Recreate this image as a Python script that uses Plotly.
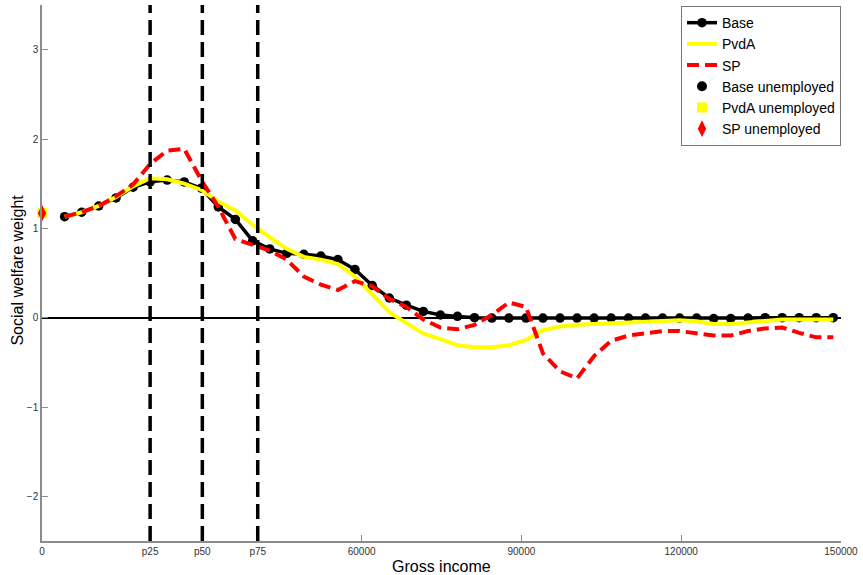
import plotly.graph_objects as go

# ---- data ----
income = [4250, 7450, 10650, 13900, 17100, 20300, 23500, 26700, 29900, 33100,
          36300, 39550, 42750, 45950, 49150, 52350, 55550, 58750, 62000, 65200,
          68400, 71600, 74800, 78000, 81200, 84450, 87650, 90850, 94050, 97250,
          100450, 103650, 106850, 110100, 113300, 116500, 119700, 122900, 126100, 129300,
          132550, 135750, 138950, 142150, 145350, 148550]

base = [1.13, 1.18, 1.25, 1.34, 1.46, 1.52, 1.54, 1.52, 1.45, 1.24,
        1.10, 0.86, 0.77, 0.72, 0.71, 0.69, 0.65, 0.54, 0.36, 0.22,
        0.14, 0.07, 0.03, 0.015, 0.0, -0.005, -0.005, -0.005, -0.005, -0.005,
        -0.005, -0.005, -0.005, -0.005, -0.005, -0.005, -0.005, -0.005, -0.01, -0.01,
        -0.005, 0.0, 0.0, 0.0, 0.0, 0.0]

pvda = [1.13, 1.18, 1.25, 1.35, 1.47, 1.56, 1.55, 1.50, 1.43, 1.30,
        1.20, 1.04, 0.90, 0.77, 0.68, 0.65, 0.60, 0.46, 0.26, 0.06,
        -0.06, -0.18, -0.24, -0.31, -0.33, -0.33, -0.31, -0.25, -0.14, -0.10,
        -0.08, -0.07, -0.06, -0.05, -0.04, -0.03, -0.03, -0.04, -0.07, -0.07,
        -0.05, -0.03, -0.02, -0.02, -0.02, -0.02]

sp = [1.13, 1.18, 1.25, 1.36, 1.49, 1.72, 1.87, 1.89, 1.54, 1.24,
      0.88, 0.81, 0.75, 0.65, 0.46, 0.37, 0.31, 0.41, 0.35, 0.21,
      0.12, -0.02, -0.11, -0.13, -0.08, 0.03, 0.17, 0.12, -0.40, -0.60,
      -0.68, -0.43, -0.26, -0.20, -0.17, -0.15, -0.15, -0.17, -0.20, -0.20,
      -0.15, -0.12, -0.11, -0.17, -0.22, -0.22]

unemp_x = [0]
base_unemp = [1.17]
pvda_unemp = [1.17]
sp_unemp = [1.17]

percentiles = [20300, 30100, 40500]
pct_labels = ["p25", "p50", "p75"]

x_tickvals = [0] + percentiles + [60000, 90000, 120000, 150000]
x_ticktext = ["0"] + pct_labels + ["60000", "90000", "120000", "150000"]
y_tickvals = [-2, -1, 0, 1, 2, 3]

# ---- figure ----
fig = go.Figure()

fig.add_trace(go.Scatter(x=income, y=base, name="Base", mode="lines+markers",
                         line=dict(color="black", width=3.5),
                         marker=dict(color="black", size=9.5, symbol="circle")))
fig.add_trace(go.Scatter(x=income, y=pvda, name="PvdA", mode="lines",
                         line=dict(color="#FFFF00", width=4)))
fig.add_trace(go.Scatter(x=income, y=sp, name="SP", mode="lines",
                         line=dict(color="#FF0000", width=4, dash="12px,6px")))
fig.add_trace(go.Scatter(x=unemp_x, y=base_unemp, name="Base unemployed", mode="markers",
                         marker=dict(color="black", size=10, symbol="circle"), cliponaxis=False))
fig.add_trace(go.Scatter(x=unemp_x, y=pvda_unemp, name="PvdA unemployed", mode="markers",
                         marker=dict(color="#FFFF00", size=10, symbol="square"), cliponaxis=False))
fig.add_trace(go.Scatter(x=unemp_x, y=sp_unemp, name="SP unemployed", mode="markers",
                         marker=dict(color="#FF0000", size=12, symbol="diamond-tall"), cliponaxis=False))

for p in percentiles:
    fig.add_shape(type="line", xref="x", yref="paper", x0=p, x1=p, y0=0, y1=1,
                  line=dict(color="black", width=3.5, dash="15px,7px"), layer="above")

tickfont = dict(family="Liberation Sans Narrow, Liberation Sans, Arial", size=10, color="#333333")

fig.update_layout(
    width=863, height=575,
    margin=dict(l=42, r=16, t=5, b=34),
    paper_bgcolor="white", plot_bgcolor="white",
    showlegend=True,
    legend=dict(x=1.0, y=0.998, xanchor="right", yanchor="top",
                bgcolor="white", bordercolor="#777777", borderwidth=1,
                font=dict(family="Liberation Sans, Arial", size=14, color="black"),
                tracegroupgap=0, itemwidth=30),
    xaxis=dict(range=[0, 150000], tickvals=x_tickvals, ticktext=x_ticktext,
               showgrid=False, zeroline=False, showline=True, linecolor="#8c8c8c",
               linewidth=1.5, ticks="inside", ticklen=6, tickcolor="#8c8c8c",
               tickfont=tickfont, ticklabeloverflow="allow"),
    yaxis=dict(range=[-2.5, 3.5], tickvals=y_tickvals,
               showgrid=False, zeroline=True, zerolinecolor="black", zerolinewidth=1.5,
               showline=True, linecolor="#8c8c8c", linewidth=1.5,
               ticks="inside", ticklen=6, tickcolor="#8c8c8c", tickfont=tickfont),
    annotations=[
        dict(text="Gross income", xref="paper", yref="paper", x=0.5, y=-0.047,
             xanchor="center", yanchor="middle", showarrow=False,
             font=dict(family="Liberation Sans, Arial", size=16, color="black")),
        dict(text="Social welfare weight", xref="paper", yref="paper", x=-0.031, y=0.505,
             xanchor="center", yanchor="middle", textangle=-90, showarrow=False,
             font=dict(family="Liberation Sans, Arial", size=16, color="black")),
    ],
)

fig.write_html("out.html")
